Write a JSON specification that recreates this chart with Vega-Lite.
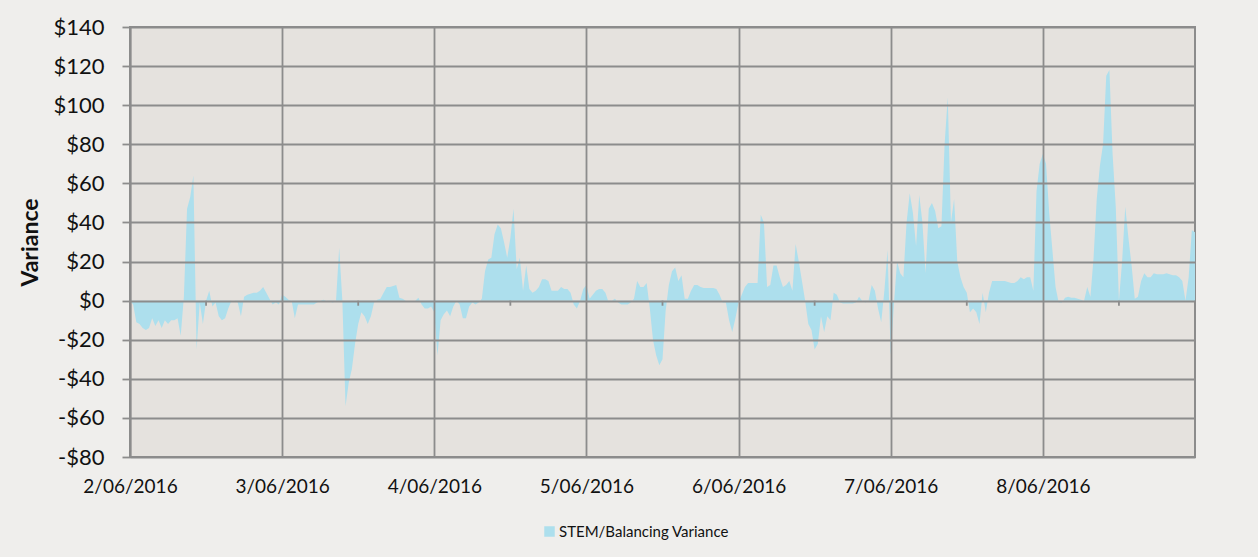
{
"$schema": "https://vega.github.io/schema/vega-lite/v6.json",
"width": 1065, "height": 430,
"autosize": "none",
"padding": {"left": 130, "top": 27, "right": 63, "bottom": 100},
"background": "#EFEEEC",
"config": {"view": {"fill": "#E5E2DE", "stroke": "#8C8C8C", "strokeWidth": 2}, "font": "Lato"},
"datasets": {
"series": [
{"t":"2016-06-02T00:00","v":0},{"t":"2016-06-02T00:30","v":-2},{"t":"2016-06-02T01:00","v":-11},{"t":"2016-06-02T01:30","v":-12},{"t":"2016-06-02T02:00","v":-14},{"t":"2016-06-02T02:30","v":-15},{"t":"2016-06-02T03:00","v":-14},{"t":"2016-06-02T03:30","v":-9},{"t":"2016-06-02T04:00","v":-13},{"t":"2016-06-02T04:30","v":-10},{"t":"2016-06-02T05:00","v":-14},{"t":"2016-06-02T05:30","v":-10},{"t":"2016-06-02T06:00","v":-12},{"t":"2016-06-02T06:30","v":-10},{"t":"2016-06-02T07:00","v":-10},{"t":"2016-06-02T07:30","v":-9},{"t":"2016-06-02T08:00","v":-18},{"t":"2016-06-02T08:30","v":2},{"t":"2016-06-02T09:00","v":47},{"t":"2016-06-02T09:30","v":53},{"t":"2016-06-02T10:00","v":64},{"t":"2016-06-02T10:30","v":-25},{"t":"2016-06-02T11:00","v":-1},{"t":"2016-06-02T11:30","v":-12},{"t":"2016-06-02T12:00","v":0},{"t":"2016-06-02T12:30","v":5},{"t":"2016-06-02T13:00","v":-3},{"t":"2016-06-02T13:30","v":-1},{"t":"2016-06-02T14:00","v":-8},{"t":"2016-06-02T14:30","v":-10},{"t":"2016-06-02T15:00","v":-9},{"t":"2016-06-02T15:30","v":-4},{"t":"2016-06-02T16:00","v":0},{"t":"2016-06-02T16:30","v":0},{"t":"2016-06-02T17:00","v":-1},{"t":"2016-06-02T17:30","v":-8},{"t":"2016-06-02T18:00","v":2},{"t":"2016-06-02T18:30","v":3},{"t":"2016-06-02T19:00","v":3.5},{"t":"2016-06-02T19:30","v":4},{"t":"2016-06-02T20:00","v":4},{"t":"2016-06-02T20:30","v":5},{"t":"2016-06-02T21:00","v":7},{"t":"2016-06-02T21:30","v":4},{"t":"2016-06-02T22:00","v":1},{"t":"2016-06-02T22:30","v":-2},{"t":"2016-06-02T23:00","v":-1},{"t":"2016-06-02T23:30","v":-2},
{"t":"2016-06-03T00:00","v":3},{"t":"2016-06-03T00:30","v":2},{"t":"2016-06-03T01:00","v":0.5},{"t":"2016-06-03T01:30","v":0},{"t":"2016-06-03T02:00","v":-9},{"t":"2016-06-03T02:30","v":-2},{"t":"2016-06-03T03:00","v":-2},{"t":"2016-06-03T03:30","v":-2},{"t":"2016-06-03T04:00","v":-2},{"t":"2016-06-03T04:30","v":-2},{"t":"2016-06-03T05:00","v":-2},{"t":"2016-06-03T05:30","v":-1},{"t":"2016-06-03T06:00","v":0},{"t":"2016-06-03T06:30","v":0.5},{"t":"2016-06-03T07:00","v":0},{"t":"2016-06-03T07:30","v":-0.5},{"t":"2016-06-03T08:00","v":-1},{"t":"2016-06-03T08:30","v":0},{"t":"2016-06-03T09:00","v":27},{"t":"2016-06-03T09:30","v":0},{"t":"2016-06-03T10:00","v":-54},{"t":"2016-06-03T10:30","v":-42},{"t":"2016-06-03T11:00","v":-35},{"t":"2016-06-03T11:30","v":-22},{"t":"2016-06-03T12:00","v":-12},{"t":"2016-06-03T12:30","v":-6},{"t":"2016-06-03T13:00","v":-8},{"t":"2016-06-03T13:30","v":-12},{"t":"2016-06-03T14:00","v":-8},{"t":"2016-06-03T14:30","v":-1},{"t":"2016-06-03T15:00","v":0.5},{"t":"2016-06-03T15:30","v":1},{"t":"2016-06-03T16:00","v":4},{"t":"2016-06-03T16:30","v":7},{"t":"2016-06-03T17:00","v":7},{"t":"2016-06-03T17:30","v":7.5},{"t":"2016-06-03T18:00","v":8},{"t":"2016-06-03T18:30","v":1.5},{"t":"2016-06-03T19:00","v":1},{"t":"2016-06-03T19:30","v":0},{"t":"2016-06-03T20:00","v":0},{"t":"2016-06-03T20:30","v":0},{"t":"2016-06-03T21:00","v":0},{"t":"2016-06-03T21:30","v":1.5},{"t":"2016-06-03T22:00","v":-2},{"t":"2016-06-03T22:30","v":-4},{"t":"2016-06-03T23:00","v":-4},{"t":"2016-06-03T23:30","v":-3},
{"t":"2016-06-04T00:00","v":-6},{"t":"2016-06-04T00:30","v":-28},{"t":"2016-06-04T01:00","v":-10},{"t":"2016-06-04T01:30","v":-7},{"t":"2016-06-04T02:00","v":-5},{"t":"2016-06-04T02:30","v":-8},{"t":"2016-06-04T03:00","v":-3},{"t":"2016-06-04T03:30","v":0},{"t":"2016-06-04T04:00","v":-2},{"t":"2016-06-04T04:30","v":-9},{"t":"2016-06-04T05:00","v":-9},{"t":"2016-06-04T05:30","v":-3},{"t":"2016-06-04T06:00","v":-1},{"t":"2016-06-04T06:30","v":-2},{"t":"2016-06-04T07:00","v":-1},{"t":"2016-06-04T07:30","v":1},{"t":"2016-06-04T08:00","v":15},{"t":"2016-06-04T08:30","v":21},{"t":"2016-06-04T09:00","v":22},{"t":"2016-06-04T09:30","v":34},{"t":"2016-06-04T10:00","v":39},{"t":"2016-06-04T10:30","v":37},{"t":"2016-06-04T11:00","v":30},{"t":"2016-06-04T11:30","v":22},{"t":"2016-06-04T12:00","v":32},{"t":"2016-06-04T12:30","v":47},{"t":"2016-06-04T13:00","v":16},{"t":"2016-06-04T13:30","v":22},{"t":"2016-06-04T14:00","v":5},{"t":"2016-06-04T14:30","v":18},{"t":"2016-06-04T15:00","v":6},{"t":"2016-06-04T15:30","v":4},{"t":"2016-06-04T16:00","v":5},{"t":"2016-06-04T16:30","v":7},{"t":"2016-06-04T17:00","v":11},{"t":"2016-06-04T17:30","v":11},{"t":"2016-06-04T18:00","v":10},{"t":"2016-06-04T18:30","v":5},{"t":"2016-06-04T19:00","v":5},{"t":"2016-06-04T19:30","v":5},{"t":"2016-06-04T20:00","v":7},{"t":"2016-06-04T20:30","v":6},{"t":"2016-06-04T21:00","v":6},{"t":"2016-06-04T21:30","v":4},{"t":"2016-06-04T22:00","v":-2},{"t":"2016-06-04T22:30","v":-4},{"t":"2016-06-04T23:00","v":0},{"t":"2016-06-04T23:30","v":6},
{"t":"2016-06-05T00:00","v":8},{"t":"2016-06-05T00:30","v":1},{"t":"2016-06-05T01:00","v":3},{"t":"2016-06-05T01:30","v":5},{"t":"2016-06-05T02:00","v":6},{"t":"2016-06-05T02:30","v":6},{"t":"2016-06-05T03:00","v":4},{"t":"2016-06-05T03:30","v":-1},{"t":"2016-06-05T04:00","v":0},{"t":"2016-06-05T04:30","v":1},{"t":"2016-06-05T05:00","v":-1},{"t":"2016-06-05T05:30","v":-2},{"t":"2016-06-05T06:00","v":-2},{"t":"2016-06-05T06:30","v":-2},{"t":"2016-06-05T07:00","v":-1},{"t":"2016-06-05T07:30","v":1},{"t":"2016-06-05T08:00","v":10},{"t":"2016-06-05T08:30","v":7},{"t":"2016-06-05T09:00","v":7},{"t":"2016-06-05T09:30","v":9},{"t":"2016-06-05T10:00","v":-4},{"t":"2016-06-05T10:30","v":-20},{"t":"2016-06-05T11:00","v":-28},{"t":"2016-06-05T11:30","v":-33},{"t":"2016-06-05T12:00","v":-30},{"t":"2016-06-05T12:30","v":-5},{"t":"2016-06-05T13:00","v":8},{"t":"2016-06-05T13:30","v":15},{"t":"2016-06-05T14:00","v":17},{"t":"2016-06-05T14:30","v":10},{"t":"2016-06-05T15:00","v":13},{"t":"2016-06-05T15:30","v":1},{"t":"2016-06-05T16:00","v":1},{"t":"2016-06-05T16:30","v":5},{"t":"2016-06-05T17:00","v":8},{"t":"2016-06-05T17:30","v":8},{"t":"2016-06-05T18:00","v":7},{"t":"2016-06-05T18:30","v":6.5},{"t":"2016-06-05T19:00","v":6.5},{"t":"2016-06-05T19:30","v":6.5},{"t":"2016-06-05T20:00","v":6.5},{"t":"2016-06-05T20:30","v":6},{"t":"2016-06-05T21:00","v":3},{"t":"2016-06-05T21:30","v":-1},{"t":"2016-06-05T22:00","v":-1},{"t":"2016-06-05T22:30","v":-10},{"t":"2016-06-05T23:00","v":-16},{"t":"2016-06-05T23:30","v":-9},
{"t":"2016-06-06T00:00","v":-1},{"t":"2016-06-06T00:30","v":3},{"t":"2016-06-06T01:00","v":7},{"t":"2016-06-06T01:30","v":9},{"t":"2016-06-06T02:00","v":9},{"t":"2016-06-06T02:30","v":9},{"t":"2016-06-06T03:00","v":9},{"t":"2016-06-06T03:30","v":44},{"t":"2016-06-06T04:00","v":40},{"t":"2016-06-06T04:30","v":7},{"t":"2016-06-06T05:00","v":8},{"t":"2016-06-06T05:30","v":18},{"t":"2016-06-06T06:00","v":18},{"t":"2016-06-06T06:30","v":12},{"t":"2016-06-06T07:00","v":7},{"t":"2016-06-06T07:30","v":8},{"t":"2016-06-06T08:00","v":10},{"t":"2016-06-06T08:30","v":5},{"t":"2016-06-06T09:00","v":29},{"t":"2016-06-06T09:30","v":20},{"t":"2016-06-06T10:00","v":10},{"t":"2016-06-06T10:30","v":0},{"t":"2016-06-06T11:00","v":-12},{"t":"2016-06-06T11:30","v":-15},{"t":"2016-06-06T12:00","v":-25},{"t":"2016-06-06T12:30","v":-22},{"t":"2016-06-06T13:00","v":-8},{"t":"2016-06-06T13:30","v":-16},{"t":"2016-06-06T14:00","v":-8},{"t":"2016-06-06T14:30","v":-10},{"t":"2016-06-06T15:00","v":4},{"t":"2016-06-06T15:30","v":3},{"t":"2016-06-06T16:00","v":-1},{"t":"2016-06-06T16:30","v":-1.5},{"t":"2016-06-06T17:00","v":-1.5},{"t":"2016-06-06T17:30","v":-1.5},{"t":"2016-06-06T18:00","v":-1.5},{"t":"2016-06-06T18:30","v":-1},{"t":"2016-06-06T19:00","v":2},{"t":"2016-06-06T19:30","v":0},{"t":"2016-06-06T20:00","v":-1},{"t":"2016-06-06T20:30","v":0},{"t":"2016-06-06T21:00","v":8},{"t":"2016-06-06T21:30","v":5},{"t":"2016-06-06T22:00","v":-4},{"t":"2016-06-06T22:30","v":-11},{"t":"2016-06-06T23:00","v":5},{"t":"2016-06-06T23:30","v":26},
{"t":"2016-06-07T00:00","v":-28},{"t":"2016-06-07T00:30","v":-2},{"t":"2016-06-07T01:00","v":20},{"t":"2016-06-07T01:30","v":14},{"t":"2016-06-07T02:00","v":12},{"t":"2016-06-07T02:30","v":40},{"t":"2016-06-07T03:00","v":55},{"t":"2016-06-07T03:30","v":45},{"t":"2016-06-07T04:00","v":28},{"t":"2016-06-07T04:30","v":54},{"t":"2016-06-07T05:00","v":40},{"t":"2016-06-07T05:30","v":14},{"t":"2016-06-07T06:00","v":47},{"t":"2016-06-07T06:30","v":50},{"t":"2016-06-07T07:00","v":46},{"t":"2016-06-07T07:30","v":37},{"t":"2016-06-07T08:00","v":38},{"t":"2016-06-07T08:30","v":80},{"t":"2016-06-07T09:00","v":104},{"t":"2016-06-07T09:30","v":40},{"t":"2016-06-07T10:00","v":52},{"t":"2016-06-07T10:30","v":20},{"t":"2016-06-07T11:00","v":12},{"t":"2016-06-07T11:30","v":7},{"t":"2016-06-07T12:00","v":4},{"t":"2016-06-07T12:30","v":-6},{"t":"2016-06-07T13:00","v":-4},{"t":"2016-06-07T13:30","v":-6},{"t":"2016-06-07T14:00","v":-12},{"t":"2016-06-07T14:30","v":4},{"t":"2016-06-07T15:00","v":-6},{"t":"2016-06-07T15:30","v":4},{"t":"2016-06-07T16:00","v":10},{"t":"2016-06-07T16:30","v":10},{"t":"2016-06-07T17:00","v":10},{"t":"2016-06-07T17:30","v":10},{"t":"2016-06-07T18:00","v":10},{"t":"2016-06-07T18:30","v":9.5},{"t":"2016-06-07T19:00","v":9},{"t":"2016-06-07T19:30","v":9},{"t":"2016-06-07T20:00","v":10},{"t":"2016-06-07T20:30","v":12},{"t":"2016-06-07T21:00","v":11},{"t":"2016-06-07T21:30","v":12},{"t":"2016-06-07T22:00","v":12},{"t":"2016-06-07T22:30","v":5},{"t":"2016-06-07T23:00","v":56},{"t":"2016-06-07T23:30","v":70},
{"t":"2016-06-08T00:00","v":75},{"t":"2016-06-08T00:30","v":70},{"t":"2016-06-08T01:00","v":45},{"t":"2016-06-08T01:30","v":26},{"t":"2016-06-08T02:00","v":7},{"t":"2016-06-08T02:30","v":-1},{"t":"2016-06-08T03:00","v":-1},{"t":"2016-06-08T03:30","v":1.5},{"t":"2016-06-08T04:00","v":2},{"t":"2016-06-08T04:30","v":1.5},{"t":"2016-06-08T05:00","v":1.5},{"t":"2016-06-08T05:30","v":1},{"t":"2016-06-08T06:00","v":0.5},{"t":"2016-06-08T06:30","v":0},{"t":"2016-06-08T07:00","v":7},{"t":"2016-06-08T07:30","v":2},{"t":"2016-06-08T08:00","v":22},{"t":"2016-06-08T08:30","v":52},{"t":"2016-06-08T09:00","v":69},{"t":"2016-06-08T09:30","v":80},{"t":"2016-06-08T10:00","v":115},{"t":"2016-06-08T10:30","v":118},{"t":"2016-06-08T11:00","v":75},{"t":"2016-06-08T11:30","v":48},{"t":"2016-06-08T12:00","v":0},{"t":"2016-06-08T12:30","v":20},{"t":"2016-06-08T13:00","v":48},{"t":"2016-06-08T13:30","v":32},{"t":"2016-06-08T14:00","v":18},{"t":"2016-06-08T14:30","v":1},{"t":"2016-06-08T15:00","v":2},{"t":"2016-06-08T15:30","v":10},{"t":"2016-06-08T16:00","v":14},{"t":"2016-06-08T16:30","v":12},{"t":"2016-06-08T17:00","v":12},{"t":"2016-06-08T17:30","v":14},{"t":"2016-06-08T18:00","v":13.5},{"t":"2016-06-08T18:30","v":13.5},{"t":"2016-06-08T19:00","v":13.5},{"t":"2016-06-08T19:30","v":14},{"t":"2016-06-08T20:00","v":13.5},{"t":"2016-06-08T20:30","v":13},{"t":"2016-06-08T21:00","v":13},{"t":"2016-06-08T21:30","v":12},{"t":"2016-06-08T22:00","v":10},{"t":"2016-06-08T22:30","v":0},{"t":"2016-06-08T23:00","v":12},{"t":"2016-06-08T23:30","v":36},
{"t":"2016-06-09T00:00","v":35}
],
"ticks": [
{"t":"2016-06-02T12:00"},{"t":"2016-06-03T12:00"},{"t":"2016-06-04T12:00"},{"t":"2016-06-05T12:00"},{"t":"2016-06-06T12:00"},{"t":"2016-06-07T12:00"},{"t":"2016-06-08T12:00"}
]
},
"layer": [
{
"data": {"name": "series"},
"mark": {"type": "area", "opacity": 1, "line": false},
"encoding": {
"x": {"field": "t", "type": "temporal",
 "scale": {"domain": [{"year": 2016, "month": 6, "date": 2}, {"year": 2016, "month": 6, "date": 9}], "nice": false},
 "axis": {"title": null, "values": [{"year": 2016, "month": 6, "date": 2}, {"year": 2016, "month": 6, "date": 3}, {"year": 2016, "month": 6, "date": 4}, {"year": 2016, "month": 6, "date": 5}, {"year": 2016, "month": 6, "date": 6}, {"year": 2016, "month": 6, "date": 7}, {"year": 2016, "month": 6, "date": 8}],
  "labelExpr": "timeFormat(datum.value, '%-d/%m/%Y')", "grid": true, "gridColor": "#8C8C8C", "gridWidth": 1.8, "gridOpacity": 1,
  "ticks": false, "domain": false, "labelFontSize": 19, "labelColor": "#111111", "labelBaseline": "middle", "labelPadding": 29,
  "labelFlush": false, "labelOverlap": false, "zindex": 1}},
"y": {"field": "v", "type": "quantitative",
 "scale": {"domain": [-80, 140], "nice": false, "zero": false},
 "axis": {"values": [-80, -60, -40, -20, 0, 20, 40, 60, 80, 100, 120, 140],
  "labelExpr": "datum.value < 0 ? '-$' + abs(datum.value) : '$' + datum.value",
  "grid": true, "gridColor": "#8C8C8C", "gridWidth": 1.8, "gridOpacity": 1,
  "tickSize": 8, "tickColor": "#8C8C8C", "tickWidth": 1.8, "domain": true, "domainColor": "#8C8C8C", "domainWidth": 1.8,
  "labelFontSize": 22, "labelColor": "#111111", "labelPadding": 18, "labelFlush": false, "labelOverlap": false,
  "title": "Variance", "titleFontSize": 23, "titleFontWeight": "bold", "titleColor": "#111111",
  "titleX": -100, "titleY": 215, "titleAngle": 270, "titleAlign": "center", "titleBaseline": "middle", "zindex": 1}},
"color": {"datum": "STEM/Balancing Variance", "type": "nominal", "scale": {"range": ["#ADDFED"]},
 "legend": {"orient": "none", "legendX": 412, "legendY": 497, "title": null, "symbolType": "square", "symbolSize": 110,
  "symbolStrokeWidth": 0, "labelFontSize": 15, "labelColor": "#111111", "padding": 0, "labelOffset": 2, "labelLimit": 0}}
}
},
{
"data": {"name": "ticks"},
"mark": {"type": "rule", "color": "#8C8C8C", "strokeWidth": 1.8},
"encoding": {
"x": {"field": "t", "type": "temporal"},
"y": {"datum": 0, "type": "quantitative",
 "axis": {"values": [-80, -60, -40, -20, 0, 20, 40, 60, 80, 100, 120, 140],
  "labelExpr": "datum.value < 0 ? '-$' + abs(datum.value) : '$' + datum.value",
  "grid": true, "gridColor": "#8C8C8C", "gridWidth": 1.8, "gridOpacity": 1,
  "tickSize": 8, "tickColor": "#8C8C8C", "tickWidth": 1.8, "domain": true, "domainColor": "#8C8C8C", "domainWidth": 1.8,
  "labelFontSize": 22, "labelColor": "#111111", "labelPadding": 18, "labelFlush": false, "labelOverlap": false,
  "title": "Variance", "titleFontSize": 23, "titleFontWeight": "bold", "titleColor": "#111111",
  "titleX": -100, "titleY": 215, "titleAngle": 270, "titleAlign": "center", "titleBaseline": "middle", "zindex": 1}},
"y2": {"datum": -2.6}
}
}
]
}
